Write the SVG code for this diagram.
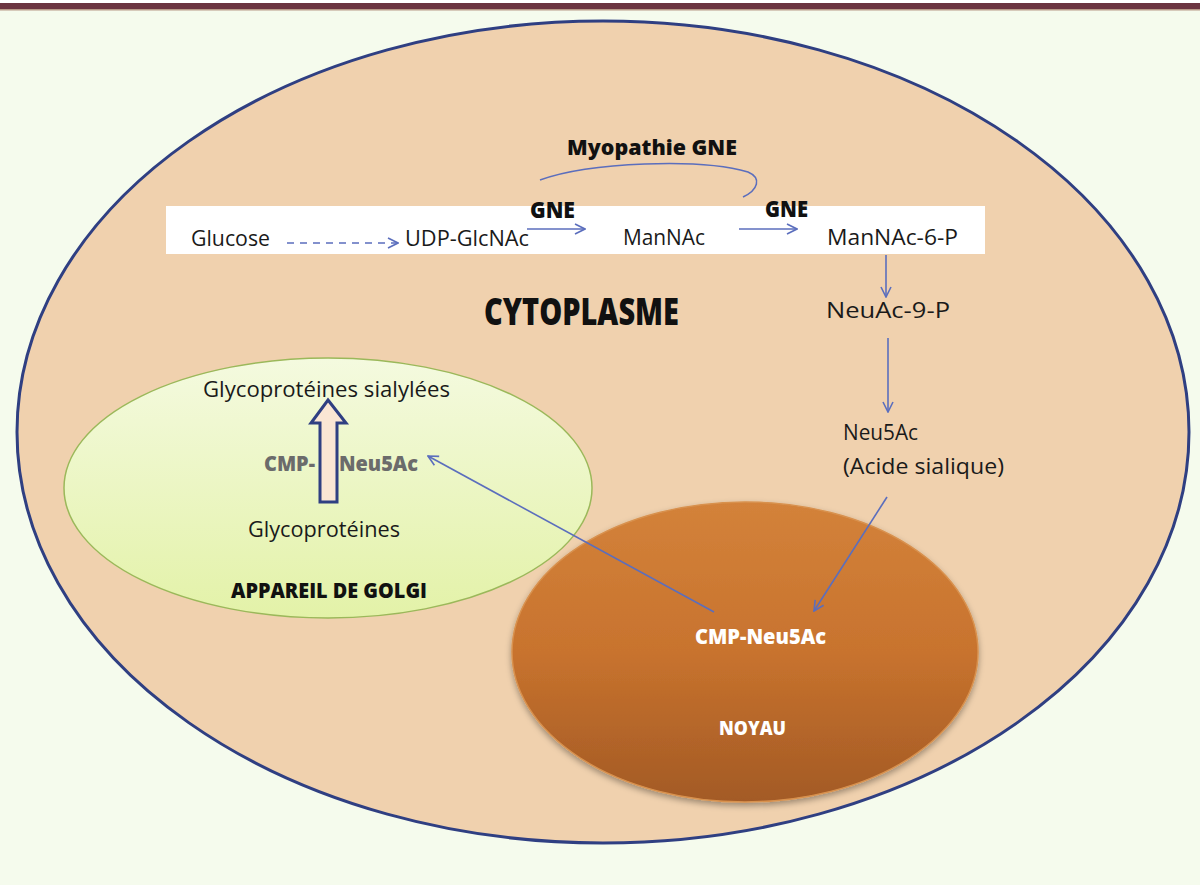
<svg xmlns="http://www.w3.org/2000/svg" width="1200" height="885" viewBox="0 0 1200 885">
<defs>
<style>
.t{font-family:"Open Sans","DejaVu Sans",sans-serif;font-size:21px;fill:#1a1a1a}
.b{font-family:"Open Sans","DejaVu Sans",sans-serif;font-weight:800;fill:#111}
.c{fill:none;stroke:#5b6ebd;stroke-width:1.6}
</style>
<marker id="ah" viewBox="0 0 12 12" refX="11" refY="6" markerWidth="12" markerHeight="12" markerUnits="userSpaceOnUse" orient="auto">
<path d="M1,1 L11,6 L1,11" fill="none" stroke="#5b6ebd" stroke-width="1.6"/>
</marker>
<linearGradient id="golgiG" x1="0" y1="0" x2="0" y2="1">
<stop offset="0" stop-color="#f4fadf"/>
<stop offset="1" stop-color="#e3f2a8"/>
</linearGradient>
<linearGradient id="noyG" x1="0" y1="0" x2="0" y2="1">
<stop offset="0" stop-color="#d3823a"/>
<stop offset="0.5" stop-color="#c8732e"/>
<stop offset="1" stop-color="#a35a25"/>
</linearGradient>
<filter id="sh" x="-10%" y="-10%" width="120%" height="125%">
<feDropShadow dx="0" dy="3" stdDeviation="3" flood-color="#000" flood-opacity="0.35"/>
</filter>
</defs>
<rect x="0" y="0" width="1200" height="885" fill="#f5fbed"/>
<rect x="0" y="0" width="1200" height="3" fill="#ffffff"/>
<rect x="0" y="3" width="1200" height="6" fill="#6b3440"/>
<rect x="0" y="9" width="1200" height="1.5" fill="#b89a88"/>

<g id="cytoplasme">
<ellipse cx="603" cy="432" rx="586" ry="411" fill="#f0d1ae" stroke="#2f3f82" stroke-width="3"/>
<text class="b" x="484" y="325" font-size="37" textLength="195" lengthAdjust="spacingAndGlyphs">CYTOPLASME</text>
</g>

<g id="band">
<rect x="166" y="206" width="819" height="48" fill="#ffffff"/>
</g>

<g id="golgi">
<ellipse cx="328" cy="488" rx="264" ry="130" fill="url(#golgiG)" stroke="#9bb85a" stroke-width="1.5"/>
<text class="t" x="203" y="397" textLength="247" lengthAdjust="spacingAndGlyphs">Glycoprotéines sialylées</text>
<path d="M328,400 L346,423 L337,423 L337,502 L320,502 L320,423 L311,423 Z" fill="#fae6d4" stroke="#2f3f82" stroke-width="3" stroke-linejoin="miter"/>
<text class="b" x="264" y="471" font-size="21" style="fill:#6b6b6b" textLength="51" lengthAdjust="spacingAndGlyphs">CMP-</text>
<text class="b" x="339" y="471" font-size="21" style="fill:#6b6b6b" textLength="79" lengthAdjust="spacingAndGlyphs">Neu5Ac</text>
<text class="t" x="248" y="537" textLength="152" lengthAdjust="spacingAndGlyphs">Glycoprotéines</text>
<text class="b" x="231" y="598" font-size="21" textLength="196" lengthAdjust="spacingAndGlyphs">APPAREIL DE GOLGI</text>
</g>

<g id="noyau">
<ellipse cx="745" cy="652" rx="233" ry="150" fill="url(#noyG)" stroke="#d8914e" stroke-width="1.5" filter="url(#sh)"/>
<text class="b" x="695" y="644" font-size="21" style="fill:#ffffff" textLength="131" lengthAdjust="spacingAndGlyphs">CMP-Neu5Ac</text>
<text class="b" x="719" y="735" font-size="20" style="fill:#ffffff" textLength="67" lengthAdjust="spacingAndGlyphs">NOYAU</text>
</g>

<g id="nodes">
<text class="t" x="191" y="246" textLength="79" lengthAdjust="spacingAndGlyphs">Glucose</text>
<text class="t" x="405" y="246" textLength="124" lengthAdjust="spacingAndGlyphs">UDP-GlcNAc</text>
<text class="t" x="623" y="245" textLength="82" lengthAdjust="spacingAndGlyphs">ManNAc</text>
<text class="t" x="827" y="245" textLength="131" lengthAdjust="spacingAndGlyphs">ManNAc-6-P</text>
<text class="t" x="826" y="318" textLength="124" lengthAdjust="spacingAndGlyphs">NeuAc-9-P</text>
<text class="t" x="843" y="440" textLength="75" lengthAdjust="spacingAndGlyphs">Neu5Ac</text>
<text class="t" x="843" y="474" textLength="161" lengthAdjust="spacingAndGlyphs">(Acide sialique)</text>
<text class="b" x="530" y="218" font-size="22" textLength="45" lengthAdjust="spacingAndGlyphs">GNE</text>
<text class="b" x="765" y="217" font-size="22" textLength="43" lengthAdjust="spacingAndGlyphs">GNE</text>
<text class="b" x="567" y="155" font-size="21" textLength="170" lengthAdjust="spacingAndGlyphs">Myopathie GNE</text>
</g>

<g id="connectors">
<line class="c" x1="287" y1="243" x2="398" y2="243" stroke-dasharray="7,6" marker-end="url(#ah)"/>
<line class="c" x1="527" y1="229" x2="585" y2="229" marker-end="url(#ah)"/>
<line class="c" x1="739" y1="229" x2="797" y2="229" marker-end="url(#ah)"/>
<path class="c" d="M540,180 C590,162 700,158 748,172 C762,178 758,190 743,197"/>
<line class="c" x1="886" y1="255" x2="886" y2="297" marker-end="url(#ah)"/>
<line class="c" x1="888" y1="338" x2="888" y2="412" marker-end="url(#ah)"/>
<line class="c" x1="887" y1="497" x2="814" y2="611" marker-end="url(#ah)"/>
<line class="c" x1="714" y1="612" x2="428" y2="456" marker-end="url(#ah)"/>
</g>
</svg>
